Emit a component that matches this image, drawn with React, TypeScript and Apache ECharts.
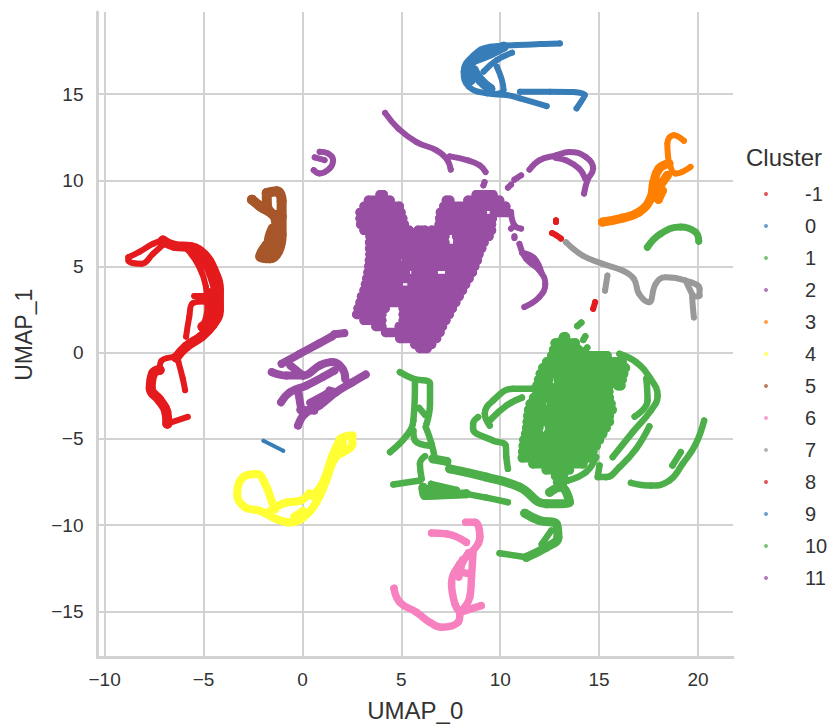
import React, { useEffect, useRef } from "react";
import * as echarts from "echarts";

type P = number[];
const clusterNames = ["-1", "0", "1", "2", "3", "4", "5", "6", "7", "8", "9", "10", "11"];
const xTicks = [-10, -5, 0, 5, 10, 15, 20];
const yTicks = [-15, -10, -5, 0, 5, 10, 15];

// -1
const noiseDots: P[][] = [
  [[12.82, 7.68], [12.82, 7.58]],
  [[12.62, 6.94], [12.85, 6.8], [13.07, 6.62]],
  [[14.8, 2.94], [14.7, 2.55]],
];
// 0
const blueThin: P[][] = [
  [[13.02, 17.94], [12.01, 17.9], [10.84, 17.84], [9.5, 17.75], [8.66, 17.26], [8.15, 16.3], [8.41, 15.43], [9.33, 15.04], [10.34, 14.94], [11.0, 14.75], [12.35, 14.3]],
  [[11.0, 15.14], [12.52, 15.14], [14.28, 14.94], [13.86, 14.17]],
  [[9.83, 16.59], [10.17, 15.23], [9.7, 15.0]],
  [[9.16, 16.3], [9.83, 16.97], [10.6, 17.4]],
];
const blueThick: P[][] = [
  [[8.66, 16.39], [8.99, 15.81], [9.5, 15.3]],
  [[8.66, 16.97], [9.5, 17.36], [10.17, 17.75]],
  [[8.45, 16.6], [8.5, 15.8]],
];
// 1
const greenRows: number[][] = [
  [0.91, 13.2, 13.3], [0.56, 12.78, 13.8], [0.17, 12.7, 13.97], [-0.17, 12.61, 15.4], [-0.52, 12.36, 16.16],
  [-0.87, 12.16, 16.33], [-1.22, 12.03, 16.24], [-1.57, 11.94, 12.45, 12.95, 16.16], [-1.91, 11.86, 12.45, 12.9, 15.52, 15.95, 16.1],
  [-2.26, 11.86, 15.49], [-2.61, 11.69, 15.52], [-2.96, 11.52, 12.08, 12.58, 15.6], [-3.31, 11.44, 15.66],
  [-3.66, 11.4, 15.52], [-4.0, 11.37, 15.52], [-4.35, 11.34, 11.95, 12.5, 15.35], [-4.7, 11.29, 11.95, 12.41, 15.18],
  [-5.05, 11.2, 12.7, 13.15, 15.02], [-5.4, 11.17, 14.85], [-5.74, 11.14, 14.68], [-6.09, 11.12, 14.51],
  [-6.44, 11.66, 14.18], [-6.79, 12.33, 13.5], [-7.14, 12.8, 13.2], [-7.49, 12.9, 13.17],
];
const greenThick: P[][] = [
  [[7.45, -6.73], [9.3, -7.21], [10.98, -7.79], [12.33, -8.76], [13.5, -8.67], [13.08, -7.79], [12.5, -8.09]],
  [[6.1, -7.8], [6.19, -8.28], [8.29, -8.18]],
  [[6.1, -7.9], [7.6, -8.1]],
  [[6.6, -6.15], [7.3, -6.3]],
  [[11.24, -9.3], [11.99, -9.73], [12.83, -9.92], [12.92, -10.7], [12.33, -11.28], [11.32, -11.86]],
];
const greenThin: P[][] = [
  [[13.9, 1.55], [14.1, 1.75]], [[14.2, 0.75], [14.3, 0.95]], [[13.3, 1.0], [13.0, 0.7]], [[14.2, 0.0], [14.4, 0.3]],
  [[16.03, -0.06], [16.87, -0.54], [17.54, -1.41], [17.96, -2.48], [17.62, -3.35], [16.7, -4.6], [15.69, -6.05]],
  [[17.39, -1.5], [17.45, -2.77], [16.8, -3.7]],
  [[17.54, -4.27], [16.87, -5.57], [16.03, -6.63], [15.35, -7.21], [14.93, -7.21], [15.02, -6.54]],
  [[13.42, -7.41], [14.34, -6.92], [14.85, -6.05]],
  [[20.31, -3.93], [19.89, -5.28], [19.22, -6.44], [18.55, -7.41], [17.62, -7.7], [16.61, -7.54]],
  [[19.13, -5.76], [18.71, -6.54]],
  [[11.57, -2.09], [10.65, -2.09], [9.64, -2.77], [9.22, -3.54], [9.47, -4.22]],
  [[11.1, -2.6], [10.31, -3.06], [9.5, -3.9]],
  [[8.88, -3.73], [8.63, -4.12], [8.63, -4.41], [9.64, -5.09], [10.28, -5.38], [10.31, -6.05], [10.39, -6.73]],
  [[4.93, -1.12], [5.61, -1.51], [6.45, -1.8], [6.45, -2.96], [6.28, -4.12]],
  [[5.69, -1.8], [5.61, -3.93], [5.27, -4.8], [4.43, -5.76]],
  [[6.24, -4.31], [6.53, -5.28], [6.7, -6.15]],
  [[5.61, -4.51], [5.69, -5.09], [6.5, -5.4]],
  [[5.9, -3.2], [6.2, -3.6]],
  [[6.2, -6.0], [5.94, -6.44], [6.03, -7.31]],
  [[4.6, -7.64], [5.94, -7.41]],
  [[8.29, -8.18], [9.3, -8.4], [10.39, -8.67]],
  [[6.5, -7.6], [7.8, -7.95]],
  [[12.58, -10.31], [12.1, -11.1]],
  [[11.32, -11.86], [9.97, -11.62]],
];
// 2
const purpleRows: number[][] = [
  [9.17, 3.93, 4.09, 8.79, 9.63], [8.84, 3.34, 4.43, 7.28, 7.45, 8.37, 9.97], [8.49, 3.12, 4.9, 7.15, 10.28],
  [8.14, 2.92, 4.98, 6.98, 9.1, 9.71, 10.38], [7.79, 2.92, 5.07, 6.95, 9.6], [7.45, 2.95, 5.15, 6.92, 9.56],
  [7.1, 3.12, 5.4, 5.85, 6.2, 6.53, 7.55, 8.0, 9.56], [6.75, 3.42, 4.5, 4.95, 7.2, 7.8, 9.43],
  [6.4, 3.4, 3.5, 3.95, 7.2, 7.85, 9.18], [6.05, 3.4, 7.55, 8.0, 9.06], [5.71, 3.42, 8.92],
  [5.36, 3.39, 4.75, 5.25, 8.84], [5.01, 3.36, 8.71], [4.66, 3.32, 5.2, 5.75, 6.61, 7.45, 8.59],
  [4.31, 3.26, 8.42], [3.97, 3.19, 4.85, 5.55, 8.25], [3.62, 3.12, 8.09], [3.27, 2.99, 7.92], [2.92, 2.92, 7.75],
  [2.57, 2.82, 4.18, 5.1, 7.58], [2.22, 2.75, 4.01, 5.1, 7.42], [1.88, 3.12, 4.01, 5.1, 5.94, 6.4, 7.25],
  [1.53, 3.72, 4.01, 4.9, 7.08], [1.18, 4.21, 6.95], [0.83, 4.93, 6.78], [0.48, 5.69, 6.53], [0.25, 5.94, 6.3],
];
const purpleThin: P[][] = [
  [[4.18, 13.91], [4.85, 13.0], [5.77, 12.22], [6.78, 11.74], [7.28, 11.26], [7.5, 10.62]],
  [[7.45, 11.39], [8.37, 11.16], [8.96, 10.87], [9.26, 10.48]],
  [[9.21, 9.9], [9.15, 9.7]],
  [[10.39, 9.57], [10.55, 9.75]], [[10.72, 10.04], [11.06, 10.29]],
  [[11.48, 10.62], [11.98, 11.16], [12.82, 11.45], [13.49, 11.64], [14.33, 11.35], [14.7, 10.68], [14.41, 10.0], [14.24, 9.23]],
  [[12.82, 11.3], [13.32, 11.16], [13.99, 10.68], [14.3, 10.1]],
  [[10.55, 8.16], [10.72, 7.39], [11.06, 7.2]],
  [[10.72, 7.39], [10.55, 7.2]],
  [[10.72, 6.75], [10.72, 6.65]],
  [[10.97, 6.32], [11.31, 5.45], [11.98, 4.78], [12.28, 4.0], [11.98, 3.23], [11.22, 2.65]],
  [[11.1, 5.8], [11.7, 5.5], [12.1, 4.6]],
  [[0.62, 11.33], [1.12, 11.17]],
  [[0.87, 11.65], [1.29, 11.56], [1.55, 11.17], [1.38, 10.69], [0.87, 10.4], [0.57, 10.59]],
];
// 3
const orangeMain: P[][] = [
  [[15.17, 7.58], [16.18, 7.81], [17.02, 8.16], [17.6, 8.93], [17.77, 9.9], [18.03, 10.68], [18.53, 10.97]],
  [[18.03, 9.61], [18.45, 10.29]],
  [[18.0, 8.9], [18.2, 9.4]],
];
const orangeThin: P[][] = [
  [[18.53, 10.97], [18.45, 12.13], [18.78, 12.62], [19.29, 12.29]],
  [[18.61, 10.78], [18.87, 10.39], [19.62, 10.78]],
];
// 4
const yellowPaths: P[][] = [
  [[2.03, -5.78], [1.62, -6.16], [1.2, -7.42], [0.7, -8.68], [0.03, -9.55], [-0.63, -9.84], [-1.3, -9.65], [-2.13, -9.17], [-2.88, -8.97], [-3.3, -8.2], [-2.97, -7.19], [-2.3, -7.03], [-1.88, -7.62], [-1.55, -8.59], [-1.38, -9.07]],
  [[-1.63, -9.17], [-0.8, -8.68], [-0.13, -8.59], [0.33, -8.16]],
  [[2.03, -5.78], [2.07, -4.9], [2.53, -4.8], [2.53, -5.29], [2.03, -5.78]],
  [[1.9, -5.0], [1.5, -6.0], [1.0, -7.6], [0.5, -8.3]],
  [[0.03, -9.17], [-0.4, -9.5]],
];
// 5
const brownPaths: P[][] = [
  [[-2.55, 8.88], [-2.13, 8.49], [-1.47, 8.0], [-1.13, 7.42], [-1.22, 6.84], [-1.8, 6.26], [-2.13, 5.58], [-1.63, 5.48], [-1.05, 6.84], [-1.05, 7.9]],
  [[-1.8, 9.26], [-1.3, 9.36], [-1.05, 8.78], [-1.05, 7.9]],
  [[-1.8, 9.26], [-1.8, 8.6], [-1.47, 8.0]],
  [[-1.9, 5.9], [-1.4, 6.2]],
  [[-1.5, 7.2], [-1.7, 6.4], [-1.5, 5.9]],
  [[-1.4, 8.0], [-1.3, 7.4]],
];
// 6
const pinkPaths: P[][] = [
  [[8.26, -9.83], [8.71, -9.83], [8.97, -10.7], [8.63, -11.47], [7.96, -12.24], [7.54, -13.4], [7.71, -14.56], [7.96, -15.05]],
  [[8.63, -11.47], [8.55, -13.0], [8.46, -14.18], [7.96, -15.05], [9.04, -14.66]],
  [[8.1, -12.0], [7.9, -13.0]],
  [[8.4, -11.6], [8.0, -12.6], [8.4, -12.8]],
  [[6.53, -10.45], [7.29, -10.5], [8.29, -10.99]],
  [[4.63, -13.66], [4.93, -14.47], [5.77, -15.05], [6.44, -15.63], [7.03, -15.92], [7.87, -15.63], [7.96, -15.15]],
];
// 7
const grayPaths: P[][] = [
  [[13.32, 6.41], [14.16, 5.64], [15.17, 5.16], [16.18, 4.77], [16.76, 4.28], [17.02, 3.41], [17.52, 2.93], [17.86, 3.99], [18.36, 4.38], [19.37, 4.19], [20.08, 3.7], [20.08, 3.31], [19.71, 3.22], [19.79, 2.05]],
  [[19.37, 4.19], [19.7, 3.4]],
  [[15.42, 4.48], [15.3, 3.6]],
];
// 8
const redArc: P[][] = [
  [[-7.05, 6.51], [-6.47, 6.2], [-5.63, 6.12], [-4.97, 5.68], [-4.5, 4.81], [-4.22, 3.64], [-4.22, 2.48], [-4.55, 1.61], [-5.13, 0.93], [-5.88, 0.35], [-6.38, -0.27]],
  [[-4.63, 3.45], [-4.55, 2.29], [-5.05, 1.51]],
  [[-7.22, -1.0], [-7.55, -1.2], [-7.67, -2.07], [-7.22, -2.75], [-6.88, -3.43], [-6.83, -4.11]],
];
const redFine: P[][] = [
  [[-8.8, 5.54], [-8.22, 5.87], [-7.55, 6.32], [-7.05, 6.51]],
  [[-8.8, 5.54], [-8.8, 5.35], [-8.13, 5.16], [-7.55, 5.74], [-7.05, 6.26]],
  [[-5.8, 5.97], [-5.22, 5.0], [-4.88, 3.84], [-4.8, 2.67], [-5.05, 1.51]],
  [[-5.6, 5.9], [-5.0, 5.2], [-4.6, 4.2], [-4.45, 3.4]],
  [[-4.97, 2.97], [-5.55, 2.87], [-5.72, 2.09], [-5.88, 0.93]],
  [[-5.47, 3.29], [-4.97, 3.29]],
  [[-6.27, -0.23], [-7.13, -0.47], [-7.22, -1.0]],
  [[-6.27, -0.52], [-6.05, -1.49], [-5.93, -2.17]],
  [[-6.83, -4.11], [-5.8, -3.72]],
];
// 9
const blueTiny: P[][] = [[[-1.97, -5.1], [-0.97, -5.68]]];
// 10
const greenUpper: P[][] = [[[17.44, 6.12], [18.11, 6.9], [19.12, 7.29], [19.87, 7.0], [20.04, 6.47]]];
// 11
const purpleLow: P[][] = [
  [[2.12, 1.14], [1.62, 1.07]],
  [[1.5, 0.95], [0.87, 0.56], [-0.13, -0.06], [-1.05, -0.64]],
  [[-1.55, -1.12], [-0.8, -1.32], [0.03, -1.32], [0.87, -0.74], [1.53, -0.54], [2.03, -0.93], [2.17, -1.51]],
  [[-1.08, -2.87], [-0.63, -2.29], [0.2, -1.9], [1.03, -1.41], [1.62, -1.03]],
  [[-0.22, -4.22], [0.12, -3.55], [0.87, -3.06], [1.7, -2.29], [2.53, -1.71], [3.2, -1.26]],
  [[-0.22, -2.19], [-0.05, -3.35]],
  [[1.37, -2.19], [1.7, -2.29]],
  [[-0.6, -0.75], [0.03, -1.32]],
  [[0.4, -2.9], [1.2, -2.4]],
  [[-0.1, -3.3], [0.6, -3.35]],
];

const rowsToPaths = (rows: number[][]): P[][] =>
  rows.flatMap((r) => {
    const out: P[][] = [];
    for (let i = 1; i + 1 < r.length; i += 2) out.push([[r[i], r[0]], [r[i + 1], r[0]]]);
    return out;
  });

const red = "#e41a1c", blue = "#377eb8", green = "#4daf4a", purple = "#984ea3", orange = "#ff7f00",
  yellow = "#ffff33", brown = "#a65628", pink = "#f781bf", gray = "#999999";

const layers: [string, string, number, P[][]][] = [
  ["-1", red, 6, noiseDots],
  ["0", blue, 6, blueThin],
  ["0", blue, 10, blueThick],
  ["1", green, 9.5, rowsToPaths(greenRows)],
  ["1", green, 9, greenThick],
  ["1", green, 6.5, greenThin],
  ["2", purple, 9.5, rowsToPaths(purpleRows)],
  ["2", purple, 6, purpleThin],
  ["3", orange, 9, orangeMain],
  ["3", orange, 6, orangeThin],
  ["4", yellow, 8, yellowPaths],
  ["5", brown, 10, brownPaths],
  ["6", pink, 7.5, pinkPaths],
  ["7", gray, 6, grayPaths],
  ["8", red, 10, redArc],
  ["8", red, 6, redFine],
  ["9", blue, 4, blueTiny],
  ["10", green, 7, greenUpper],
  ["11", purple, 8, purpleLow],
];

const textColor = "#333333";
const font = "'Liberation Sans', Arial, sans-serif";
const gridColor = "#d2d2d2";
const tickFormat = (v: number) => String(v).replace("-", "\u2212");

export default function App() {
  const ref = useRef<HTMLDivElement>(null);
  useEffect(() => {
    const chart = echarts.init(ref.current!, undefined, { renderer: "svg" });
    const series: any[] = [];
    layers.forEach(([name, color, width, paths]) => {
      series.push({
        type: "scatter", name, silent: true, symbolSize: width,
        itemStyle: { color, opacity: 1 }, data: paths.flat(),
      });
      series.push({
        type: "line", name, silent: true, showSymbol: false, symbol: "none", connectNulls: false, smooth: 0.45,
        itemStyle: { color }, lineStyle: { color, width, cap: "round", join: "round" },
        data: paths.flatMap((p, i) => (i ? [["-", "-"], ...p] : p)),
      });
    });
    chart.setOption({
      animation: false,
      backgroundColor: "#ffffff",
      title: {
        text: "Cluster", left: 746, top: 145, padding: 0,
        textStyle: { color: textColor, fontFamily: font, fontSize: 24, fontWeight: "normal" },
      },
      legend: {
        orient: "vertical", left: 764, top: 184, icon: "circle", itemWidth: 4, itemHeight: 4, itemGap: 12, padding: 0,
        selectedMode: false,
        data: clusterNames,
        itemStyle: { opacity: 0.75 },
        textStyle: { color: textColor, fontFamily: font, fontSize: 20, lineHeight: 20, padding: [0, 0, 0, 32] },
      },
      grid: { left: 97.5, right: 95, top: 12, bottom: 67.5, containLabel: false, outerBoundsMode: "none" },
      xAxis: {
        type: "value", min: -10.36, max: 21.77, name: "UMAP_0", nameLocation: "middle", nameGap: 41,
        nameTextStyle: { color: textColor, fontFamily: font, fontSize: 24 },
        axisLine: { show: true, onZero: false, lineStyle: { color: gridColor, width: 3 } },
        axisTick: { show: false, customValues: xTicks },
        axisLabel: { customValues: xTicks, formatter: tickFormat, color: textColor, fontFamily: font, fontSize: 19, margin: 12 },
        splitLine: { show: true, lineStyle: { color: gridColor, width: 2 } },
      },
      yAxis: {
        type: "value", min: -17.67, max: 19.76, name: "UMAP_1", nameLocation: "middle", nameGap: 62,
        nameTextStyle: { color: textColor, fontFamily: font, fontSize: 23 },
        axisLine: { show: true, onZero: false, lineStyle: { color: gridColor, width: 3 } },
        axisTick: { show: false, customValues: yTicks },
        axisLabel: { customValues: yTicks, formatter: tickFormat, color: textColor, fontFamily: font, fontSize: 19, margin: 14 },
        splitLine: { show: true, lineStyle: { color: gridColor, width: 2 } },
      },
      series,
    });
    return () => chart.dispose();
  }, []);
  return <div ref={ref} style={{ position: "absolute", left: 0, top: 0, width: 828, height: 725 }} />;
}
